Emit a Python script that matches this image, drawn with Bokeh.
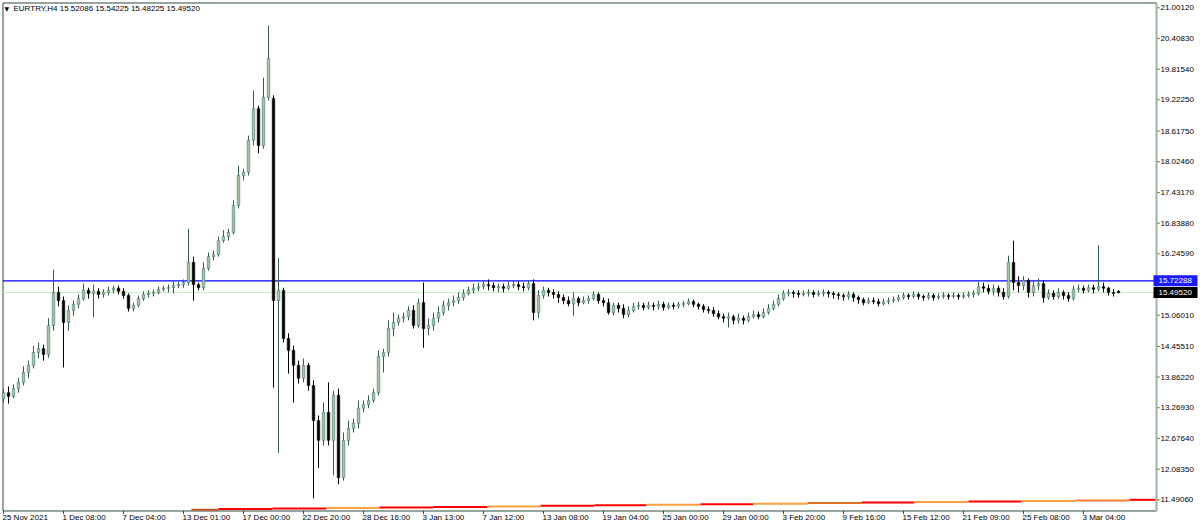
from bokeh.plotting import figure
from bokeh.models import ColumnDataSource, Range1d, Label
from bokeh.core.properties import value
from bokeh.embed import file_html
from bokeh.resources import INLINE

# ---------------- data (EURTRY, H4) ----------------
opens = [13.45, 13.56, 13.49, 13.64, 13.76, 13.95, 14.09, 14.34, 14.41, 14.30,
         14.86, 15.50, 15.34, 14.92, 15.15, 15.27, 15.38, 15.54, 15.48, 15.52,
         15.46, 15.50, 15.54, 15.58, 15.52, 15.44, 15.19, 15.25, 15.38, 15.46,
         15.48, 15.50, 15.56, 15.58, 15.59, 15.63, 15.65, 15.69, 16.08, 15.65,
         15.59, 15.96, 16.19, 16.23, 16.50, 16.58, 16.66, 17.18, 17.76, 17.82,
         18.44, 19.05, 18.34, 19.27, 19.25, 15.34, 15.54, 14.61, 14.38, 14.09,
         13.84, 14.09, 13.70, 13.02, 12.64, 13.18, 12.64, 13.51, 11.92, 12.64,
         12.87, 12.97, 13.26, 13.33, 13.41, 13.56, 14.26, 14.34, 14.80, 14.92,
         15.00, 15.03, 15.15, 14.86, 15.30, 14.80, 14.86, 15.00, 15.11, 15.25,
         15.30, 15.34, 15.40, 15.48, 15.54, 15.58, 15.61, 15.65, 15.63, 15.59,
         15.61, 15.58, 15.63, 15.65, 15.61, 15.59, 15.67, 15.11, 15.44, 15.54,
         15.50, 15.46, 15.40, 15.34, 15.28, 15.38, 15.30, 15.34, 15.38, 15.46,
         15.34, 15.30, 15.11, 15.25, 15.19, 15.07, 15.15, 15.23, 15.25, 15.21,
         15.25, 15.23, 15.27, 15.21, 15.25, 15.23, 15.27, 15.28, 15.32, 15.27,
         15.23, 15.17, 15.15, 15.09, 15.03, 15.00, 15.03, 14.96, 15.00, 14.96,
         15.03, 15.07, 15.03, 15.11, 15.19, 15.27, 15.38, 15.48, 15.50, 15.48,
         15.46, 15.48, 15.50, 15.46, 15.48, 15.50, 15.48, 15.46, 15.44, 15.42,
         15.46, 15.40, 15.36, 15.30, 15.34, 15.32, 15.28, 15.32, 15.34, 15.36,
         15.40, 15.44, 15.42, 15.46, 15.42, 15.40, 15.44, 15.40, 15.42, 15.44,
         15.42, 15.44, 15.42, 15.44, 15.46, 15.48, 15.61, 15.58, 15.52, 15.58,
         15.50, 15.42, 16.08, 15.69, 15.63, 15.73, 15.50, 15.63, 15.67, 15.40,
         15.48, 15.42, 15.50, 15.44, 15.38, 15.56, 15.58, 15.54, 15.59, 15.56,
         15.61, 15.58, 15.50, 15.52086]

highs = [13.64, 13.68, 13.72, 13.85, 14.07, 14.18, 14.47, 14.53, 14.49, 15.00,
         15.94, 15.61, 15.42, 15.25, 15.34, 15.46, 15.67, 15.59, 15.65, 15.58,
         15.56, 15.61, 15.63, 15.63, 15.58, 15.48, 15.30, 15.44, 15.52, 15.54,
         15.56, 15.61, 15.63, 15.65, 15.71, 15.71, 15.75, 16.73, 16.19, 15.69,
         16.08, 16.27, 16.31, 16.58, 16.70, 16.73, 17.28, 17.95, 17.89, 18.53,
         19.40, 19.11, 19.65, 20.66, 19.31, 16.16, 15.59, 14.71, 14.47, 14.18,
         14.22, 14.14, 13.80, 13.12, 13.37, 13.76, 13.60, 13.64, 12.79, 13.02,
         13.06, 13.41, 13.41, 13.51, 13.64, 14.38, 14.41, 14.96, 15.11, 15.07,
         15.11, 15.23, 15.25, 15.38, 15.69, 15.00, 15.11, 15.23, 15.34, 15.38,
         15.44, 15.50, 15.56, 15.61, 15.67, 15.69, 15.73, 15.75, 15.69, 15.67,
         15.67, 15.71, 15.73, 15.71, 15.69, 15.73, 15.75, 15.54, 15.61, 15.59,
         15.56, 15.52, 15.46, 15.42, 15.50, 15.42, 15.42, 15.44, 15.52, 15.50,
         15.40, 15.38, 15.30, 15.30, 15.27, 15.23, 15.30, 15.32, 15.30, 15.32,
         15.30, 15.34, 15.32, 15.30, 15.30, 15.32, 15.34, 15.38, 15.36, 15.30,
         15.27, 15.23, 15.21, 15.15, 15.09, 15.11, 15.07, 15.09, 15.05, 15.11,
         15.15, 15.13, 15.19, 15.27, 15.34, 15.46, 15.54, 15.56, 15.54, 15.54,
         15.54, 15.56, 15.54, 15.54, 15.56, 15.54, 15.52, 15.50, 15.48, 15.52,
         15.50, 15.44, 15.40, 15.40, 15.40, 15.38, 15.38, 15.40, 15.42, 15.46,
         15.50, 15.48, 15.52, 15.50, 15.46, 15.50, 15.48, 15.48, 15.50, 15.48,
         15.50, 15.48, 15.50, 15.52, 15.54, 15.71, 15.69, 15.65, 15.65, 15.63,
         15.58, 16.21, 16.50, 15.81, 15.81, 15.77, 15.73, 15.77, 15.73, 15.56,
         15.54, 15.58, 15.54, 15.50, 15.63, 15.65, 15.63, 15.65, 15.65, 16.41,
         15.69, 15.61, 15.56, 15.54225]

lows = [13.37, 13.35, 13.45, 13.56, 13.70, 13.84, 14.03, 14.22, 14.18, 14.24,
        14.76, 15.23, 14.05, 14.76, 15.05, 15.19, 15.34, 15.38, 15.02, 15.38,
        15.40, 15.44, 15.48, 15.46, 15.38, 15.13, 15.13, 15.21, 15.34, 15.40,
        15.42, 15.46, 15.52, 15.50, 15.48, 15.58, 15.59, 15.63, 15.34, 15.54,
        15.54, 15.92, 16.12, 16.19, 16.46, 16.50, 16.62, 17.12, 17.66, 17.76,
        18.34, 18.19, 18.28, 19.21, 13.66, 12.40, 14.53, 13.93, 13.37, 13.74,
        13.76, 13.60, 11.52, 12.10, 12.54, 12.54, 11.96, 11.79, 11.86, 12.54,
        12.79, 12.87, 13.18, 13.26, 13.37, 13.51, 13.95, 14.26, 14.65, 14.86,
        14.92, 14.96, 14.80, 14.82, 14.43, 14.67, 14.76, 14.92, 15.05, 15.15,
        15.23, 15.28, 15.34, 15.44, 15.48, 15.52, 15.56, 15.54, 15.52, 15.50,
        15.50, 15.54, 15.58, 15.54, 15.52, 15.54, 14.96, 15.00, 15.38, 15.42,
        15.38, 15.30, 15.27, 15.23, 15.05, 15.23, 15.27, 15.28, 15.34, 15.28,
        15.23, 15.07, 15.05, 15.11, 15.00, 15.02, 15.11, 15.17, 15.15, 15.17,
        15.15, 15.17, 15.15, 15.17, 15.17, 15.19, 15.21, 15.25, 15.21, 15.17,
        15.11, 15.09, 15.03, 14.98, 14.92, 14.82, 14.88, 14.90, 14.88, 14.92,
        15.00, 14.98, 15.00, 15.07, 15.15, 15.23, 15.34, 15.42, 15.40, 15.40,
        15.42, 15.42, 15.40, 15.42, 15.42, 15.40, 15.38, 15.36, 15.34, 15.36,
        15.32, 15.28, 15.25, 15.27, 15.27, 15.23, 15.25, 15.27, 15.30, 15.32,
        15.36, 15.36, 15.38, 15.36, 15.34, 15.36, 15.34, 15.36, 15.38, 15.36,
        15.38, 15.36, 15.38, 15.40, 15.40, 15.44, 15.50, 15.46, 15.44, 15.42,
        15.36, 15.38, 15.54, 15.50, 15.54, 15.40, 15.42, 15.54, 15.30, 15.36,
        15.36, 15.38, 15.36, 15.32, 15.34, 15.50, 15.48, 15.50, 15.48, 15.52,
        15.50, 15.44, 15.42, 15.48225]

closes = [13.56, 13.49, 13.64, 13.76, 13.95, 14.09, 14.34, 14.41, 14.30, 14.86,
          15.50, 15.34, 14.92, 15.15, 15.27, 15.38, 15.54, 15.48, 15.52, 15.46,
          15.50, 15.54, 15.58, 15.52, 15.44, 15.19, 15.25, 15.38, 15.46, 15.48,
          15.50, 15.56, 15.58, 15.59, 15.63, 15.65, 15.69, 16.08, 15.65, 15.59,
          15.96, 16.19, 16.23, 16.50, 16.58, 16.66, 17.18, 17.76, 17.82, 18.44,
          19.05, 18.34, 19.27, 20.02, 15.34, 15.54, 14.61, 14.38, 14.09, 13.84,
          14.09, 13.70, 13.02, 12.64, 13.18, 12.64, 13.51, 11.92, 12.64, 12.87,
          12.97, 13.26, 13.33, 13.41, 13.56, 14.26, 14.34, 14.80, 14.92, 15.00,
          15.03, 15.15, 14.86, 15.30, 14.80, 14.86, 15.00, 15.11, 15.25, 15.30,
          15.34, 15.40, 15.48, 15.54, 15.58, 15.61, 15.65, 15.63, 15.59, 15.61,
          15.58, 15.63, 15.65, 15.61, 15.59, 15.67, 15.11, 15.44, 15.54, 15.50,
          15.46, 15.40, 15.34, 15.28, 15.38, 15.30, 15.34, 15.38, 15.46, 15.34,
          15.30, 15.11, 15.25, 15.19, 15.07, 15.15, 15.23, 15.25, 15.21, 15.25,
          15.23, 15.27, 15.21, 15.25, 15.23, 15.27, 15.28, 15.32, 15.27, 15.23,
          15.17, 15.15, 15.09, 15.03, 15.00, 15.03, 14.96, 15.00, 14.96, 15.03,
          15.07, 15.03, 15.11, 15.19, 15.27, 15.38, 15.48, 15.50, 15.48, 15.46,
          15.48, 15.50, 15.46, 15.48, 15.50, 15.48, 15.46, 15.44, 15.42, 15.46,
          15.40, 15.36, 15.30, 15.34, 15.32, 15.28, 15.32, 15.34, 15.36, 15.40,
          15.44, 15.42, 15.46, 15.42, 15.40, 15.44, 15.40, 15.42, 15.44, 15.42,
          15.44, 15.42, 15.44, 15.46, 15.48, 15.61, 15.58, 15.52, 15.58, 15.50,
          15.42, 16.08, 15.69, 15.63, 15.73, 15.50, 15.63, 15.67, 15.40, 15.48,
          15.42, 15.50, 15.44, 15.38, 15.56, 15.58, 15.54, 15.59, 15.56, 15.61,
          15.58, 15.50, 15.48, 15.49520]

# date labels on the time axis (every 12th bar)
tick_bars = [0, 12, 24, 36, 48, 60, 72, 84, 96, 108, 120, 132, 144, 156, 168, 180, 192, 204, 216]
tick_labels = ["25 Nov 2021", "1 Dec 08:00", "7 Dec 04:00", "13 Dec 01:00", "17 Dec 00:00",
               "22 Dec 20:00", "28 Dec 16:00", "3 Jan 13:00", "7 Jan 12:00", "13 Jan 08:00",
               "19 Jan 04:00", "25 Jan 00:00", "29 Jan 00:00", "3 Feb 20:00", "9 Feb 16:00",
               "15 Feb 12:00", "21 Feb 09:00", "25 Feb 08:00", "3 Mar 04:00"]

# price scale labels
price_ticks = [21.0012, 20.4083, 19.8154, 19.2225, 18.6175, 18.0246, 17.4317, 16.8388,
               16.2459, 15.0601, 14.4551, 13.8622, 13.2693, 12.6764, 12.0835, 11.4906]

level_line = 15.72288
bid_price = 15.49520
header = "EURTRY,H4  15.52086 15.54225 15.48225 15.49520"

# step indicator along the bottom
ind_start = [37.6, 43.0, 53.8, 64.6, 75.2, 86.0, 96.8, 107.4, 118.2, 128.6,
             139.4, 150.0, 160.8, 171.6, 182.2, 193.0, 203.6, 214.4, 225.2]
ind_end = [43.0, 53.8, 64.6, 75.2, 86.0, 96.8, 107.4, 118.2, 128.6, 139.4,
           150.0, 160.8, 171.6, 182.2, 193.0, 203.6, 214.4, 225.2, 230.4]
ind_level = [11.300, 11.311, 11.321, 11.332, 11.342, 11.353, 11.363, 11.374, 11.384, 11.395,
             11.405, 11.416, 11.426, 11.437, 11.447, 11.458, 11.469, 11.479, 11.490]
ind_color = ["#c0502a", "#ff0000", "#ff0000", "#ffa040", "#ff0000", "#ff0000", "#ffa040",
             "#ff0000", "#ff0000", "#ffa040", "#ff0000", "#ffa040", "#e07020", "#ff0000",
             "#ffa040", "#ff0000", "#ffa040", "#ff8030", "#ff0000"]

# ---------------- layout constants (chart window in bar / price units) ----------------
X_MIN, X_MAX = -0.6, 239.4          # whole canvas, 5 px per bar
Y_MIN, Y_MAX = 10.9741, 21.1423     # whole canvas
F_LEFT, F_RIGHT = -0.1, 230.5       # chart frame
F_TOP, F_BOTTOM = 21.094, 11.274
SCALE_X = 230.6                     # price-scale line
TICK_X0, TICK_X1 = 230.8, 231.2
LABEL_X = 231.4
TAG_X, TAG_TEXT_X = 234.4, 231.0
XTICK_LEN = 0.058
XLABEL_Y = 11.2447

FONT = "Liberation Sans"
FRAME = "#2e4a3e"

bars = list(range(len(closes)))
bull = [c >= o for o, c in zip(opens, closes)]
src = ColumnDataSource(dict(
    x=bars, o=opens, h=highs, l=lows, c=closes,
    top=[max(o, c) for o, c in zip(opens, closes)],
    bot=[min(o, c) for o, c in zip(opens, closes)],
    wick=["#2f5c52" if b else "#000000" for b in bull],
    fill=["#a8c4a8" if b else "#000000" for b in bull],
    edge=["#46766a" if b else "#000000" for b in bull],
))

p = figure(width=1200, height=526, output_backend="svg", toolbar_location=None, tools="",
           x_range=Range1d(X_MIN, X_MAX), y_range=Range1d(Y_MIN, Y_MAX),
           x_axis_location=None, y_axis_location=None, min_border=0)
p.background_fill_color = "white"
p.border_fill_color = "white"
p.outline_line_color = None
p.xgrid.visible = False
p.ygrid.visible = False

# frame border (left, top, bottom)
p.segment(x0=[F_LEFT, F_LEFT, F_LEFT], y0=[F_BOTTOM, F_TOP, F_BOTTOM],
          x1=[F_LEFT, SCALE_X, SCALE_X], y1=[F_TOP, F_TOP, F_BOTTOM],
          line_color=FRAME, line_width=1)
# price scale line
p.segment(x0=[SCALE_X], y0=[F_BOTTOM], x1=[SCALE_X], y1=[F_TOP], line_color="#9fb69f", line_width=2)

# indicator
p.segment(x0=ind_start, y0=ind_level, x1=ind_end, y1=ind_level, line_color=ind_color, line_width=2)

# horizontal lines (bid line and level line)
p.segment(x0=[F_LEFT], y0=[bid_price], x1=[F_RIGHT], y1=[bid_price], line_color="#c2f2c2", line_width=1)
p.segment(x0=[F_LEFT], y0=[level_line], x1=[F_RIGHT], y1=[level_line], line_color="#0000ff", line_width=1.2)

# candles
p.segment(x0="x", y0="h", x1="x", y1="l", line_color="wick", line_width=1, source=src)
p.vbar(x="x", top="top", bottom="bot", width=0.5, fill_color="fill", line_color="edge",
       line_width=0.6, source=src)

# time axis: tick marks + left-aligned labels
p.segment(x0=tick_bars, y0=[F_BOTTOM] * len(tick_bars), x1=tick_bars,
          y1=[F_BOTTOM - XTICK_LEN] * len(tick_bars), line_color=FRAME, line_width=1)
p.text(x=tick_bars, y=[XLABEL_Y] * len(tick_bars), text=tick_labels, x_offset=-1,
       text_font=value(FONT), text_font_size="8px", text_color="black",
       text_align="left", text_baseline="top")

# price axis: tick marks + labels
p.segment(x0=[TICK_X0] * len(price_ticks), y0=price_ticks, x1=[TICK_X1] * len(price_ticks),
          y1=price_ticks, line_color=FRAME, line_width=1)
p.text(x=[LABEL_X] * len(price_ticks), y=price_ticks, text=["%.5f" % v for v in price_ticks],
       text_font=value(FONT), text_font_size="8px", text_color="black",
       text_align="left", text_baseline="middle")

# price tags
p.rect(x=[TAG_X, TAG_X], y=[level_line, bid_price], width=44, height=11,
       width_units="screen", height_units="screen",
       fill_color=["#1a1aff", "#000000"], line_color=None)
p.text(x=[TAG_TEXT_X, TAG_TEXT_X], y=[level_line, bid_price],
       text=["%.5f" % level_line, "%.5f" % bid_price],
       text_font=value(FONT), text_font_size="8px", text_color="white",
       text_align="left", text_baseline="middle")

# header text
p.add_layout(Label(x=4, y=518, x_units="screen", y_units="screen", text="\u25bc",
                   text_font="DejaVu Sans", text_font_size="6px", text_baseline="middle",
                   text_color="black"))
p.add_layout(Label(x=13, y=518, x_units="screen", y_units="screen", text=header,
                   text_font=FONT, text_font_size="8px", text_baseline="middle",
                   text_color="black"))

open("out.html", "w").write(file_html(p, INLINE))
